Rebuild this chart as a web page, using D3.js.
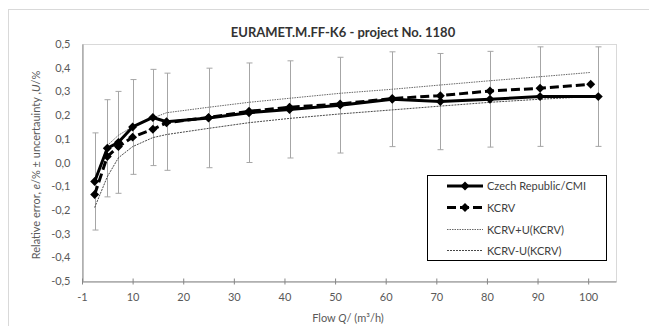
<!DOCTYPE html>
<html>
<head>
<meta charset="utf-8">
<script src="https://cdn.jsdelivr.net/npm/d3@7"></script>
<style>
  body { margin: 0; background: #fff; }
  text { font-family: Lato, "Open Sans", sans-serif; }
</style>
</head>
<body>
<script>
// flow values (m3/h)
const flowCMI = [2.5, 5, 7.2, 10, 14, 16.7, 25, 33, 41, 51, 61.3, 70.8, 80.6, 90.5, 102];
const flowKCRV = [2.5, 5, 7.2, 10, 14, 16.7, 25, 33, 41, 51, 61.3, 70.8, 80.6, 90.5, 100.5];

// Czech Republic/CMI relative error and its uncertainty U
const errCMI = [-0.08, 0.06, 0.085, 0.15, 0.19, 0.172, 0.188, 0.21, 0.224, 0.242, 0.267, 0.257, 0.267, 0.278, 0.278];
const uCMI = [0.205, 0.205, 0.215, 0.2, 0.203, 0.205, 0.21, 0.21, 0.205, 0.202, 0.2, 0.203, 0.202, 0.21, 0.21];

// KCRV and its band
const kcrv = [-0.135, 0.025, 0.067, 0.107, 0.14, 0.168, 0.19, 0.216, 0.233, 0.247, 0.27, 0.282, 0.302, 0.313, 0.33];
const kcrvUpper = [-0.09, 0.072, 0.115, 0.151, 0.188, 0.21, 0.233, 0.254, 0.271, 0.292, 0.309, 0.327, 0.345, 0.362, 0.38];
const kcrvLower = [-0.19, -0.06, 0.02, 0.067, 0.105, 0.118, 0.144, 0.168, 0.186, 0.205, 0.222, 0.238, 0.254, 0.267, 0.278];

const xTicks = [0, 10, 20, 30, 40, 50, 60, 70, 80, 90, 100];
const xTickLabels = ["-1", "10", "20", "30", "40", "50", "60", "70", "80", "90", "100"];
const yTicks = [-0.5, -0.4, -0.3, -0.2, -0.1, 0, 0.1, 0.2, 0.3, 0.4, 0.5];

const W = 649, H = 326;
const margin = {top: 44, right: 33, bottom: 45, left: 82};

const svg = d3.select("body").append("svg")
  .attr("width", W)
  .attr("height", H);

// outer chart border (cropped on right and bottom)
svg.append("rect")
  .attr("x", 8.5).attr("y", 9.5)
  .attr("width", W).attr("height", H)
  .attr("fill", "none").attr("stroke", "#d9d9d9");

let x = d3.scaleLinear().domain([0, 105.5]).range([margin.left, W - margin.right]);
let y = d3.scaleLinear().domain([-0.5, 0.5]).range([H - margin.bottom, margin.top]);

// plot area border
svg.append("rect")
  .attr("x", x(0) + 0.5).attr("y", y(0.5) + 0.5)
  .attr("width", x(105.5) - x(0)).attr("height", y(-0.5) - y(0.5))
  .attr("fill", "none").attr("stroke", "#d9d9d9");

// title
svg.append("text")
  .attr("x", 343).attr("y", 37)
  .attr("text-anchor", "middle")
  .attr("font-size", 13).attr("font-weight", "bold")
  .attr("fill", "#333")
  .text("EURAMET.M.FF-K6 - project No. 1180");

// x axis
let xAxis = svg.append("g")
  .attr("transform", "translate(0," + (y(-0.5) + 0.5) + ")")
  .call(d3.axisBottom(x).tickValues(xTicks)
    .tickFormat((d, i) => xTickLabels[i])
    .tickSize(3).tickSizeOuter(0).tickPadding(9));
xAxis.select(".domain").attr("stroke", "#868686");
xAxis.selectAll(".tick line").attr("stroke", "#868686").attr("y1", -3);
xAxis.selectAll(".tick text").attr("font-size", 11).attr("fill", "#595959")
  .style("font-family", "Lato, sans-serif");

// y axis
let yAxis = svg.append("g")
  .attr("transform", "translate(" + (x(0) + 0.5) + ",0)")
  .call(d3.axisLeft(y).tickValues(yTicks)
    .tickFormat(d => d3.format(".1f")(d).replace("−", "-").replace(".", ","))
    .tickSize(0).tickPadding(12));
yAxis.select(".domain").attr("stroke", "#868686");
yAxis.selectAll(".tick text").attr("font-size", 11).attr("fill", "#595959")
  .style("font-family", "Lato, sans-serif");

// axis titles
let yTitle = svg.append("text")
  .attr("transform", "translate(40,165) rotate(-90)")
  .attr("text-anchor", "middle")
  .attr("font-size", 11).attr("fill", "#595959");
yTitle.append("tspan").text("Relative error,  ");
yTitle.append("tspan").attr("font-style", "italic").text("e");
yTitle.append("tspan").text("/% \u00b1 uncertauinty ,");
yTitle.append("tspan").attr("font-style", "italic").text("U");
yTitle.append("tspan").text("/%");

let xTitle = svg.append("text")
  .attr("x", 348).attr("y", 322)
  .attr("text-anchor", "middle")
  .attr("font-size", 11).attr("fill", "#595959");
xTitle.append("tspan").text("Flow  ");
xTitle.append("tspan").attr("font-style", "italic").text("Q");
xTitle.append("tspan").text("/ (m\u00b3/h)");

// error bars for CMI
let bars = svg.append("g").attr("stroke", "#a6a6a6").attr("stroke-width", 1);
flowCMI.forEach((q, i) => {
  let cx = Math.round(x(q)) + 0.5;
  let top = y(errCMI[i] + uCMI[i]), bot = y(errCMI[i] - uCMI[i]);
  bars.append("line").attr("x1", cx).attr("x2", cx).attr("y1", top).attr("y2", bot);
  bars.append("line").attr("x1", cx - 3).attr("x2", cx + 3).attr("y1", top).attr("y2", top);
  bars.append("line").attr("x1", cx - 3).attr("x2", cx + 3).attr("y1", bot).attr("y2", bot);
});

const line = d3.line().x(d => x(d[0])).y(d => y(d[1]));

// KCRV +/- U bands
svg.append("path")
  .datum(flowKCRV.map((q, i) => [q, kcrvUpper[i]]))
  .attr("d", line).attr("fill", "none")
  .attr("stroke", "#555").attr("stroke-width", 0.9).attr("stroke-dasharray", "1.5,1");
svg.append("path")
  .datum(flowKCRV.map((q, i) => [q, kcrvLower[i]]))
  .attr("d", line).attr("fill", "none")
  .attr("stroke", "#333").attr("stroke-width", 0.9).attr("stroke-dasharray", "2,1");

const diamond = d3.symbol(d3.symbolSquare, 40);

// CMI line
let cmiData = flowCMI.map((q, i) => [q, errCMI[i]]);
svg.append("path")
  .datum(cmiData)
  .attr("d", line).attr("fill", "none")
  .attr("stroke", "#000").attr("stroke-width", 3).attr("stroke-linejoin", "round");
svg.selectAll(".dot-cmi")
  .data(cmiData)
  .enter().append("path")
  .attr("class", "dot-cmi")
  .attr("d", diamond)
  .attr("transform", d => "translate(" + x(d[0]) + "," + y(d[1]) + ") rotate(45)")
  .attr("fill", "#000");

// KCRV line
let kcrvData = flowKCRV.map((q, i) => [q, kcrv[i]]);
svg.append("path")
  .datum(kcrvData)
  .attr("d", line).attr("fill", "none")
  .attr("stroke", "#000").attr("stroke-width", 3).attr("stroke-dasharray", "9,4");
svg.selectAll(".dot-kcrv")
  .data(kcrvData)
  .enter().append("path")
  .attr("class", "dot-kcrv")
  .attr("d", diamond)
  .attr("transform", d => "translate(" + x(d[0]) + "," + y(d[1]) + ") rotate(45)")
  .attr("fill", "#000");

// legend
let legend = svg.append("g");
legend.append("rect")
  .attr("x", 427.5).attr("y", 175.5).attr("width", 179).attr("height", 85)
  .attr("fill", "#fff").attr("stroke", "#000");

const legendItems = [
  {name: "Czech Republic/CMI", w: 3, dash: null, marker: true, color: "#000"},
  {name: "KCRV", w: 3, dash: "9,4", marker: true, color: "#000"},
  {name: "KCRV+U(KCRV)", w: 0.9, dash: "1.5,1", marker: false, color: "#555"},
  {name: "KCRV-U(KCRV)", w: 0.9, dash: "2,1", marker: false, color: "#333"}
];
const legendY = [186, 207.5, 229.5, 250.5];

legendItems.forEach((it, i) => {
  let ly = legendY[i];
  legend.append("line")
    .attr("x1", 447).attr("x2", 483).attr("y1", ly).attr("y2", ly)
    .attr("stroke", it.color).attr("stroke-width", it.w)
    .attr("stroke-dasharray", it.dash);
  if (it.marker) {
    legend.append("path").attr("d", diamond)
      .attr("transform", "translate(465," + ly + ") rotate(45)");
  }
  legend.append("text")
    .attr("x", 487).attr("y", ly + 4)
    .attr("font-size", 11).attr("fill", "#404040")
    .text(it.name);
});
</script>
</body>
</html>
